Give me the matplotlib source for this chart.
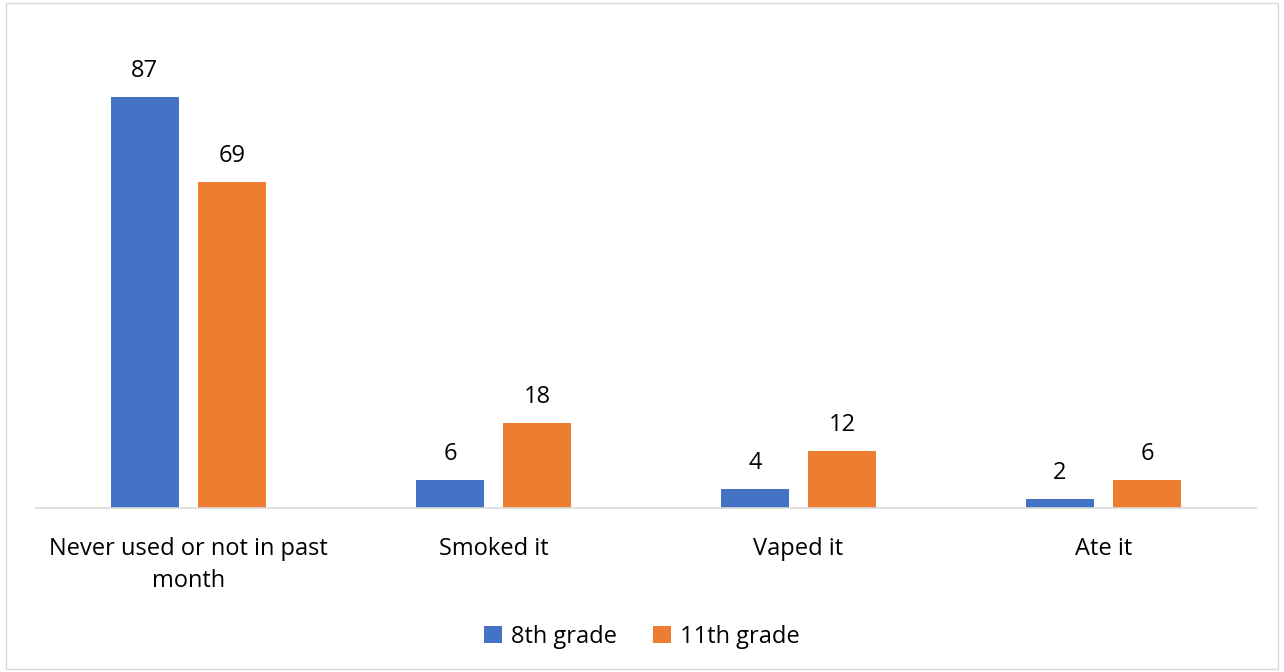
import matplotlib
matplotlib.use("Agg")
import matplotlib.pyplot as plt
import numpy as np
from matplotlib.patches import Rectangle

categories = ["Never used or not in past\nmonth", "Smoked it", "Vaped it", "Ate it"]
grade8 = [87, 6, 4, 2]
grade11 = [69, 18, 12, 6]
series_names = ["8th grade", "11th grade"]

BLUE = "#4472C4"
ORANGE = "#ED7D31"

plt.rcParams["font.family"] = ["Open Sans", "DejaVu Sans"]

fig = plt.figure(figsize=(12.84, 6.72), dpi=100)
fig.patches.append(Rectangle((0.005, 0.005), 0.99, 0.99, transform=fig.transFigure,
                             fill=False, edgecolor="#d9d9d9", linewidth=1))
ax = fig.add_axes([36 / 1284, 164 / 672, 1220 / 1284, 472 / 672])

x = np.arange(len(categories))
w = 0.223
off = 0.143
b1 = ax.bar(x - off, grade8, w, color=BLUE, label=series_names[0])
b2 = ax.bar(x + off, grade11, w, color=ORANGE, label=series_names[1])
for bars in (b1, b2):
    ax.bar_label(bars, padding=10, fontsize=17)

ax.set_xlim(-0.5, len(categories) - 0.5)
ax.set_ylim(0, 100)
ax.set_yticks([])
ax.set_xticks(x)
ax.set_xticklabels(categories, fontsize=17, linespacing=1.45)
ax.tick_params(axis="x", length=0, pad=21)
for s in ("top", "right", "left"):
    ax.spines[s].set_visible(False)
ax.spines["bottom"].set_color("#d9d9d9")
ax.spines["bottom"].set_linewidth(1.2)

fig.legend(loc="center", bbox_to_anchor=(0.5, 1 - 637 / 672), ncol=2, frameon=False,
           fontsize=17, handlelength=0.75, handleheight=0.75, handletextpad=0.4,
           columnspacing=1.5)

fig.savefig("out.png", dpi=100)
